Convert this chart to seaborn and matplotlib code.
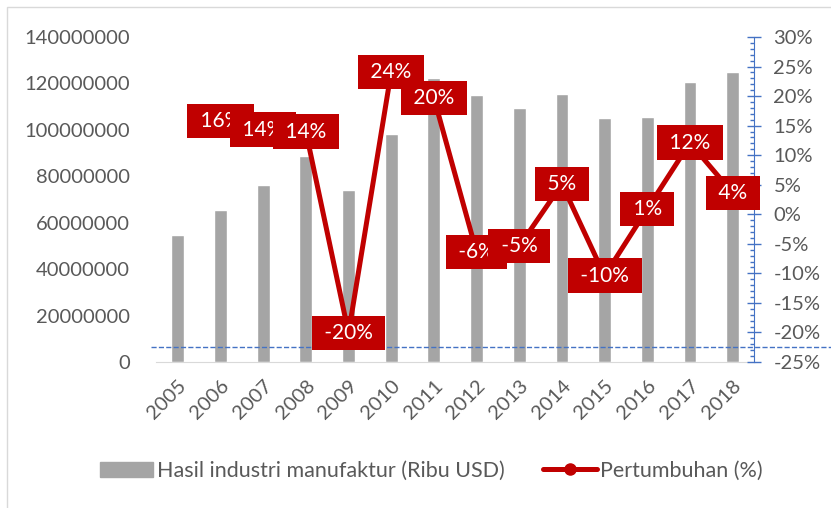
import matplotlib
matplotlib.use('Agg')
import matplotlib.pyplot as plt
import matplotlib.patches as mpatches
from matplotlib.lines import Line2D
from matplotlib.ticker import MultipleLocator, FuncFormatter
import seaborn as sns
import pandas as pd

years = ['2005', '2006', '2007', '2008', '2009', '2010', '2011',
         '2012', '2013', '2014', '2015', '2016', '2017', '2018']
# Hasil industri manufaktur (Ribu USD)
output = [54.9e6, 65.4e6, 76.3e6, 88.9e6, 74.2e6, 98.3e6, 122.4e6,
          115.2e6, 109.6e6, 115.6e6, 104.9e6, 105.7e6, 120.7e6, 125.1e6]
# Pertumbuhan (%) from 2006 on
growth_years = years[1:]
growth = [15.8, 14.3, 14.0, -20.1, 24.1, 19.7, -6.4, -5.4, 5.1, -10.4, 0.9, 12.1, 3.6]

bar_col = '#A5A5A5'
red = '#C00000'
blue = '#4472C4'
grey_txt = '#595959'

sns.set_style('white')
plt.rcParams['font.family'] = ['Lato', 'DejaVu Sans']

df = pd.DataFrame({'year': years, 'output': output})
pos = [years.index(y) for y in growth_years]

fig = plt.figure(figsize=(8.31, 5.08), dpi=100)
ax = fig.add_axes([0.1883, 0.2874, 0.719, 0.6398])
sns.barplot(data=df, x='year', y='output', color=bar_col, saturation=1,
            width=0.3, ax=ax)
ax.set_xlim(-0.5, 13.5)
ax.set_ylim(0, 140e6)
ax.yaxis.set_major_locator(MultipleLocator(20e6))
ax.yaxis.set_major_formatter(FuncFormatter(lambda v, p: f'{int(round(v))}'))
ax.set_xlabel('')
ax.set_ylabel('')
ax.tick_params(axis='y', length=0, pad=19, labelsize=14.5, labelcolor=grey_txt)
ax.tick_params(axis='x', length=0, pad=11, labelsize=14.5, labelcolor=grey_txt)
for t in ax.get_xticklabels():
    t.set_rotation(45)
    t.set_ha('right')
    t.set_rotation_mode('anchor')
for s in ['top', 'left', 'right']:
    ax.spines[s].set_visible(False)
ax.spines['bottom'].set_color('#D9D9D9')

ax2 = ax.twinx()
sns.lineplot(x=pos, y=growth, ax=ax2, color=red, linewidth=3.6,
             marker='o', markersize=8, markeredgecolor=red)
ax2.set_ylim(-25, 30)
ax2.yaxis.set_major_locator(MultipleLocator(5))
ax2.yaxis.set_minor_locator(MultipleLocator(1))
ax2.yaxis.set_major_formatter(FuncFormatter(lambda v, p: f'{int(round(v))}%'))
ax2.tick_params(axis='y', which='major', direction='inout', length=10,
                width=1, color=blue, pad=9, labelsize=14.5, labelcolor=grey_txt)
ax2.tick_params(axis='y', which='minor', direction='in', length=3,
                width=1, color=blue)
for s in ['top', 'left', 'bottom']:
    ax2.spines[s].set_visible(False)
ax2.spines['right'].set_color(blue)
ax2.set_ylabel('')

ax2.axhline(-22.5, xmin=-0.01, xmax=1.14, color=blue, ls='--', lw=1,
            clip_on=False, zorder=1)

for p, g in zip(pos, growth):
    ax2.text(p, g, f' {g:.0f}% ', ha='center', va='center', color='white',
             fontsize=15, zorder=5,
             bbox=dict(boxstyle='square,pad=0.35', facecolor=red, edgecolor='none'))

handles = [mpatches.Patch(color=bar_col),
           Line2D([], [], color=red, lw=3.6, marker='o', markersize=8)]
fig.legend(handles, ['Hasil industri manufaktur (Ribu USD)', 'Pertumbuhan (%)'],
           loc='center', bbox_to_anchor=(0.519, 0.073), ncol=2, frameon=False,
           fontsize=15.5, labelcolor=grey_txt, handlelength=2.5,
           handletextpad=0.15, columnspacing=1.8)

fig.patches.append(mpatches.Rectangle((0.0084, -0.1), 1.2, 1.086,
                                      transform=fig.transFigure, fill=False,
                                      edgecolor='#D9D9D9', lw=1))

fig.savefig('out.png', dpi=100)
